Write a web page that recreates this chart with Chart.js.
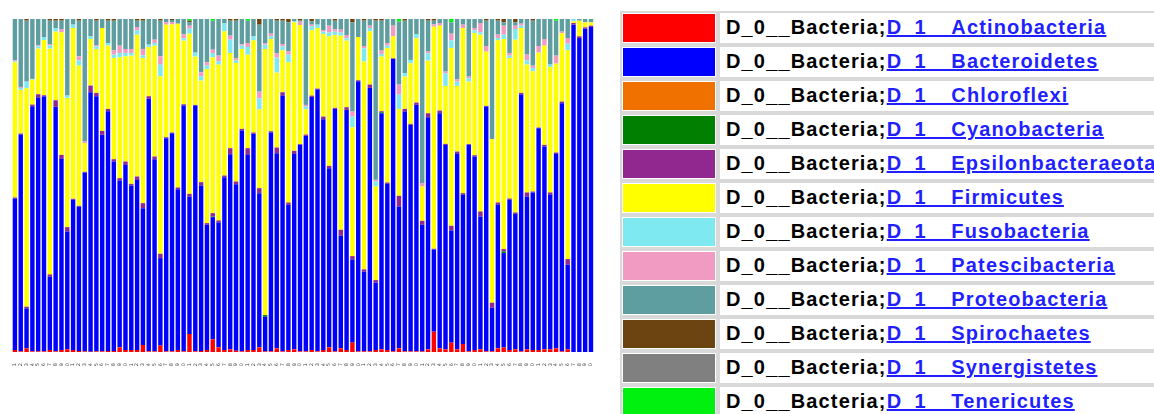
<!DOCTYPE html>
<html>
<head>
<meta charset="utf-8">
<title>Phylum-level taxa bar plot</title>
<script src="https://cdn.jsdelivr.net/npm/chart.js@4/dist/chart.umd.min.js"></script>
<style>
  html, body { margin: 0; padding: 0; background: #ffffff; overflow: hidden; }
  #wrap { position: absolute; left: 0; top: 0; width: 600px; height: 414px; }
  #legend { position: absolute; left: 620px; top: 11px; }
  .row { position: absolute; left: 0; height: 34px; }
  .sw { position: absolute; left: 0; top: 0; width: 98px; height: 34px; box-sizing: border-box;
        border: 2px solid #d9d9d9; padding: 1px; background: #fff; }
  .sw div { width: 100%; height: 100%; }
  .tx { position: absolute; left: 98px; top: 0; width: 600px; height: 34px; box-sizing: border-box;
        border: 2px solid #d9d9d9; background: #fff; padding-left: 6px; white-space: nowrap;
        font: bold 20px "Liberation Sans", Arial, sans-serif; letter-spacing: 1.15px;
        line-height: 29px; color: #000; }
  .tx a { color: #1f1fff; text-decoration: underline; text-underline-offset: 1px; }
</style>
</head>
<body>
<div id="wrap"><canvas id="chart" width="600" height="414"></canvas></div>
<div id="legend"></div>
<script>
// Sample ids along the x axis
const sampleLabels = ['1','2','3','4','5','6','7','8','9','10','11','12','13','14','15','16','17','18','19','20',
  '21','22','23','24','25','26','27','28','29','30','31','32','33','34','35','36','37','38','39','40',
  '41','42','43','44','45','46','47','48','49','50','51','52','53','54','55','56','57','58','59','60',
  '61','62','63','64','65','66','67','68','69','70','71','72','73','74','75','76','77','78','79','80',
  '81','82','83','84','85','86','87','88','89','90','91','92','93','94','95','96','97','98','99','100'];

// Taxon names (level 1 prefix + level 2 phylum)
const kingdomLabel = 'D_0__Bacteria;';
const phylumNames = ['D_1__Actinobacteria','D_1__Bacteroidetes','D_1__Chloroflexi','D_1__Cyanobacteria',
  'D_1__Epsilonbacteraeota','D_1__Firmicutes','D_1__Fusobacteria','D_1__Patescibacteria',
  'D_1__Proteobacteria','D_1__Spirochaetes','D_1__Synergistetes','D_1__Tenericutes'];
const phylumColors = ['#ff0000','#0000ff','#f07000','#007f00','#912890','#ffff00','#7fe9f2','#f29bc2',
  '#5f9ea0','#6b4412','#808080','#00f010'];

// Relative abundance (%) per sample, one array per phylum
const actinobacteria = [0.6,0.2,1.1,0.2,0.2,0.2,0.6,0.2,0.6,0.8, 0.6,0.3,0.2,0.1,0.2,0.2,0.3,0.3,1.4,0.6,
  0.6,0.6,2.1,0.2,0.2,1.9,0.2,0.2,0.6,0.2, 5.4,0.2,0.3,0.6,3.8,1.4,0.6,0.8,0.4,0.2,
  0.6,0.6,1.4,0.2,0.2,1.1,0.2,0.6,0.8,0.2, 0.2,0.6,0.2,0.6,1.4,0.2,1.1,0.6,2.8,0.2,
  0.2,0.2,0.6,0.8,0.6,0.2,1.1,0.2,0.2,0.2, 0.2,0.8,6.1,1.1,0.8,2.8,0.8,2.4,0.2,0.6,
  0.8,0.2,0.2,1.1,1.4,0.6,0.8,0.2,0.8,0.6, 0.6,0.8,0.8,1.1,0.2,0.8,0,0,0,0];
const bacteroidetes = [45.5,65.1,12.0,73.6,76.2,76.5,22.0,73.4,57.4,35.4, 45.1,43.4,53.7,77.9,76.6,65.0,72.0,56.9,50.1,55.6,
  49.4,51.1,41.1,75.8,57.7,26.3,64.0,65.5,48.3,73.8, 41.3,73.8,49.7,37.6,36.7,37.5,51.9,58.6,50.0,66.3,
  58.6,64.9,46.3,10.4,65.7,58.6,76.8,43.6,58.7,62.0, 64.7,76.0,78.6,69.3,53.8,72.8,33.8,72.1,25.0,81.1,
  23.9,79.1,20.2,70.9,49.9,87.8,42.6,72.0,68.0,74.0, 38.0,69.7,24.7,70.6,61.4,33.7,58.7,44.8,62.0,58.1,
  39.9,73.5,13.1,43.1,28.3,45.1,40.7,77.1,45.9,47.3, 66.6,60.9,46.4,58.4,74.5,25.4,98.3,94.3,97.1,97.6];
const chloroflexi = [0,0,0,0,0,0,0,0,0,0, 0,0,0,0,0,0,0,0,0,0, 0,0,0,0,0,0,0,0,0,0, 0,0,0,0,0,0,0,0,0,0,
  0,0,0,0,0,0,0,0,0,0, 0,0,0,0,0,0,0,0,0,0, 0,0,0,0,0,0,0,0,0,0, 0,0,0,0,0,0,0,0,0,0,
  0,0,0,0,0,0,0,0,0,0, 0,0,0,0,0,0,0,0,0,0];
const cyanobacteria = [0,0,0,0,0,0,0,0,0,0, 0,0,0,0,0,0,0,0,0,0, 0,0,0,0,0,0,0,0,0,0, 0,0,0,0,0.2,0,0,0,0,0,
  0,0,0,0.5,0,0,0,0,0,0, 0,0,0,0,0,0,0,0,0,0, 0,0,0,0.3,0,0,0,0,0,0, 0,0,0,0,0,0,0,0,0,0,
  0,0,0,0,0.5,0,0,0,0,0, 0,0,0,0,0,0,0,0,0,0];
const epsilonbacteraeota = [0.3,0.3,0.5,0.5,1.0,0.4,0.7,2.0,1.2,1.3, 0.3,0.2,0.2,2.0,1.0,1.2,0.7,0.7,0.7,1.0,
  0.5,1.0,1.5,0.8,0.8,1.3,0.3,0.2,0.5,0.4, 0.8,0.2,1.0,0.5,1.0,0.6,0.5,1.8,0.8,0.5,
  2.0,0.4,1.5,0,0.4,1.7,1.0,0.7,0.9,0.2, 0.4,0.4,0.3,0.8,0.7,0.3,1.8,0.8,1.0,0.3,
  0.7,1.0,0.8,0.3,0.4,0.2,3.2,0.8,0.3,0.7, 1.2,1.2,0.2,0.8,0.3,1.4,0.7,0.5,0.2,0.4,
  1.5,0.2,1.5,0.7,0.7,0.4,0.4,0.5,1.2,0.3, 0.2,0.5,0.7,0.4,0.5,1.7,0.5,0.5,0.4,0.4];
const firmicutes = [40.6,13.1,65.6,7.5,13.7,16.6,67.8,20.6,36.8,38.8, 51.3,42.1,8.6,14.0,13.2,30.9,19.0,30.4,36.3,31.6,
  38.5,42.6,43.6,14.8,33.3,53.3,33.8,32.5,49.2,19.1, 48.1,14.5,30.5,46.3,46.8,46.8,43.3,28.6,35.6,24.0,
  28.1,27.7,23.7,79.9,27.7,22.5,12.6,42.1,38.6,35.8, 7.6,19.6,18.2,24.8,38.9,21.9,58.3,20.0,38.7,13.0,
  62.4,16.0,28.1,16.4,40.4,6.6,26.1,9.7,18.2,19.3, 10.3,15.8,66.7,25.5,17.4,53.4,19.7,49.6,18.8,36.7,
  53.1,16.3,49.1,48.7,63.1,42.2,51.9,19.5,38.4,36.1, 22.5,29.8,37.7,26.7,20.5,62.7,0.5,4.7,1.5,1.0];
const fusobacteria = [0.3,0.6,2.0,0.2,0.7,0.9,1.0,1.1,0,0.7, 1.0,1.6,0,0.8,0.8,0,0.8,1.0,1.3,1.0,
  0.8,1.3,0.8,0.7,0.8,3.5,0,0,0,0.7, 1.5,1.2,1.3,1.0,1.3,1.0,2.5,4.0,0.8,1.0,
  2.3,1.2,3.3,1.3,0.8,4.5,1.2,2.3,0.3,0, 0.8,1.2,1.0,0.7,1.2,1.0,1.0,0.7,3.2,0,
  4.0,1.0,1.5,0.8,0.7,0,4.3,1.0,1.0,1.3, 0,2.2,0,0,3.8,2.3,1.3,0,1.0,0.8,
  0.7,0,0,0.7,1.3,0.7,3.2,0.7,1.3,1.0, 0,0,0.7,0,0,2.0,0.7,0,0,0];
const patescibacteria = [0.3,0.3,0,0,0.3,0,0.4,0,1.0,0, 0,1.2,0.5,0,0.4,0,0,1.3,2.2,1.2,
  1.2,1.0,1.9,0,1.0,2.5,0.7,0.7,0,1.2, 0.9,0,1.2,1.0,1.0,1.7,0,1.2,0.7,0.4,
  1.2,0,2.0,0.5,0.8,1.3,0.7,1.0,0,1.0, 0.5,0.5,0,0.5,2.0,0.7,0.8,1.0,1.5,0,
  0.7,0.7,0.5,1.0,0.8,3.2,3.0,0,0,0, 1.0,0.5,0.7,0.8,0.5,2.0,0.7,1.0,0.5,0.7,
  2.8,1.7,0,1.0,2.7,0.8,1.0,0.6,1.7,0.7, 2.0,2.0,0,2.4,0.5,1.7,0,0,0,0];
const proteobacteria = [12.4,20.4,18.3,18.0,7.9,5.4,7.0,2.2,2.5,23.0, 1.7,10.7,36.8,5.2,7.3,2.7,6.7,8.9,8.0,9.0,
  9.0,1.9,8.5,7.7,6.2,10.7,1.0,0.6,1.4,4.6, 1.0,10.1,16.0,13.0,8.7,11.0,1.2,4.5,11.2,7.6,
  6.7,5.2,20.1,7.2,4.4,9.8,7.0,8.7,0.7,0.3, 25.8,1.0,1.7,3.3,2.0,2.6,3.2,4.8,26.8,5.4,
  7.6,2.0,47.8,9.0,7.2,2.0,18.9,15.8,12.3,4.5, 49.3,9.3,1.1,1.2,15.8,3.4,18.1,1.7,17.3,2.7,
  1.2,7.6,36.1,4.2,1.0,10.2,1.0,1.4,10.7,13.5, 8.1,6.0,13.7,10.5,3.8,5.7,0,0.5,1.0,1.0];
const spirochaetes = [0,0,0.5,0,0,0,0.5,0.5,0.5,0, 0,0.5,0,0,0.5,0,0.5,0.5,0,0,
  0,0.5,0.5,0,0,0.5,0,0.3,0,0, 0.5,0,0,0,0,0,0,0.5,0.5,0,
  0,0,1.7,0,0,0.5,0.5,1.0,0,0.5, 0,0.7,0,0,0,0.5,0,0,1.0,0,
  0.5,0,0.5,0.5,0,0,0,0.5,0,0, 0,0.5,0.5,0,0,0,0,0,0,0,
  0,0.5,0,0.5,1.0,0,1.0,0,0,0.5, 0,0,0,0,0,0,0,0,0,0];
const synergistetes = [0,0,0,0,0,0,0,0,0,0, 0,0,0,0,0,0,0,0,0,0, 0,0,0,0,0,0,0,0,0,0, 0,0,0,0,0,0,0,0,0,0,
  0,0,0,0,0,0,0,0,0,0, 0,0,0,0,0,0,0,0,0,0, 0,0,0,0,0,0,0,0,0,0, 0,0,0,0,0,0,0,0,0,0,
  0,0,0,0,0,0,0,0,0,0, 0,0,0,0,0,0,0,0,0,0];
const tenericutes = [0,0,0,0,0,0,0,0,0,0, 0,0,0,0,0,0,0,0,0,0, 0,0,0,0,0,0,0,0,0,0, 0.5,0,0,0,0.5,0,0,0,0,0,
  0.5,0,0,0,0,0,0,0,0,0, 0,0,0,0,0,0,0,0,0,0, 0,0,0,0,0,0,0.8,0,0,0, 0,0,0,0,0,1.0,0,0,0,0,
  0,0,0,0,0,0,0,0,0,0, 0,0,0,0.5,0,0,0,0,0,0];

const phylumValues = [actinobacteria, bacteroidetes, chloroflexi, cyanobacteria, epsilonbacteraeota,
  firmicutes, fusobacteria, patescibacteria, proteobacteria, spirochaetes, synergistetes, tenericutes];

// Stacked bar chart, first phylum at the bottom of each column
new Chart(document.getElementById('chart'), {
  type: 'bar',
  data: {
    labels: sampleLabels,
    datasets: phylumNames.map((name, i) => ({
      label: kingdomLabel + name,
      data: phylumValues[i],
      backgroundColor: phylumColors[i],
      borderWidth: 0,
      barPercentage: 0.76,
      categoryPercentage: 1.0
    }))
  },
  options: {
    responsive: false,
    animation: false,
    layout: { padding: { left: 12, right: 6, top: 19, bottom: 48 } },
    plugins: { legend: { display: false }, tooltip: { enabled: false } },
    scales: {
      x: {
        stacked: true,
        grid: { display: false },
        border: { display: false },
        ticks: {
          autoSkip: false, minRotation: 90, maxRotation: 90, padding: 3,
          color: '#444', font: { size: 5, family: 'DejaVu Sans' }
        },
        afterFit(scale) { scale.height = 14; }
      },
      y: { stacked: true, display: false, min: 0, max: 100 }
    }
  }
});

// Legend table: colour swatch + taxonomy string with linked phylum name
const legend = document.getElementById('legend');
phylumNames.forEach((name, i) => {
  const row = document.createElement('div');
  row.className = 'row';
  row.style.top = (i * 34) + 'px';
  const sw = document.createElement('div');
  sw.className = 'sw';
  const fill = document.createElement('div');
  fill.style.background = phylumColors[i];
  sw.appendChild(fill);
  const tx = document.createElement('div');
  tx.className = 'tx';
  tx.appendChild(document.createTextNode(kingdomLabel));
  const a = document.createElement('a');
  a.href = '#';
  a.textContent = name;
  tx.appendChild(a);
  row.appendChild(sw);
  row.appendChild(tx);
  legend.appendChild(row);
});
</script>
</body>
</html>
